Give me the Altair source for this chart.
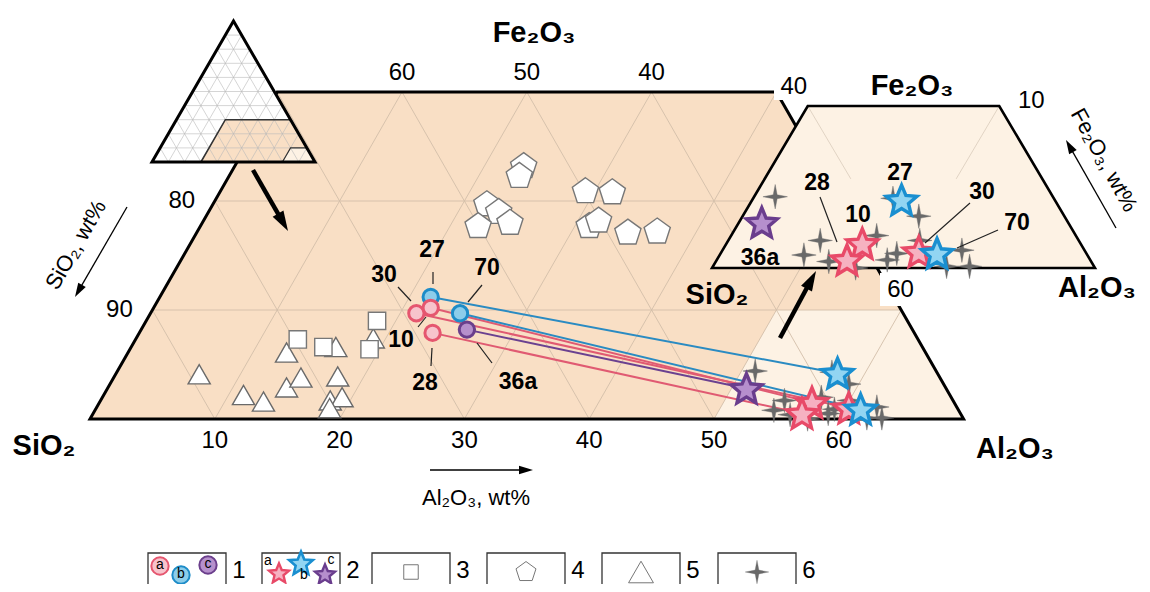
import math
import altair as alt
import pandas as pd

# ---------------- data: wt% ----------------
# legend 1 (circles) and 2 (stars): samples, sub-group a/b/c
sample_ids = ["27", "30", "10", "70", "36a", "28"]
sample_group = ["b", "a", "a", "b", "c", "a"]
clay_al2o3 = [21.7, 21.3, 22.2, 24.8, 26.1, 23.5]
clay_fe2o3 = [11.2, 9.7, 10.2, 9.7, 8.2, 7.9]
ceram_al2o3 = [57.8, 60.3, 57.1, 61.3, 51.2, 56.8]
ceram_fe2o3 = [4.2, 1.0, 1.5, 0.9, 2.8, 0.5]
# legend 3 (squares)
sq_al2o3 = [13.0, 15.4, 19.2, 18.5]
sq_fe2o3 = [7.3, 6.6, 6.4, 9.0]
# legend 4 (pentagons)
pent_al2o3 = [23.1, 23.2, 21.9, 23.2, 22.2, 24.6, 29.2, 31.4, 31.1, 31.6, 34.5, 36.8]
pent_fe2o3 = [23.3, 22.4, 19.8, 19.1, 17.8, 18.1, 21.0, 20.9, 17.8, 18.3, 17.2, 17.3]
# legend 5 (triangles)
tri_al2o3 = [6.7, 11.2, 13.1, 12.7, 14.3, 15.0, 16.4, 17.9, 18.4, 19.2, 18.7, 19.0]
tri_fe2o3 = [4.1, 2.2, 1.6, 6.1, 2.9, 3.8, 6.6, 3.9, 1.7, 2.0, 1.0, 7.4]
# legend 6 (four-point stars)
cross_al2o3 = [51.1, 54.4, 54.8, 55.9, 57.6, 58.9, 59.2, 57.3, 59.2, 60.0, 62.2, 62.5, 63.4, 57.5]
cross_fe2o3 = [4.4, 0.8, 1.7, 0.4, 2.0, 0.5, 0.9, 4.3, 3.2, 1.7, 0.1, 1.1, 0.1, 0.0]

bottom_ticks = [10, 20, 30, 40, 50, 60]   # Al2O3 along the base
top_ticks = [60, 50, 40]                  # SiO2 along Fe2O3 = 30
left_ticks = [80, 90]                     # SiO2 along the left side
legend_labels = ["1", "2", "3", "4", "5", "6"]

# ---------------- styling ----------------
FONT = "Liberation Sans, Arial, Helvetica, sans-serif"
PEACH = "#f9dfc5"
CREAM = "#fdf2e4"
GRID = "#d2bea9"
CIRC_STROKE = {"a": "#e5566f", "b": "#1d8cc8", "c": "#6b3f8c"}
CIRC_FILL = {"a": "#f7c3cc", "b": "#8ccdea", "c": "#b690cc"}
STAR_STROKE = {"a": "#e84a68", "b": "#1a8fd0", "c": "#6a3d8d"}
STAR_FILL = {"a": "#f6b1c1", "b": "#92d5f2", "c": "#b68fcd"}
LINE_COLOR = {"a": "#e05a72", "b": "#2a8bc2", "c": "#6b4190"}


# ---------------- ternary -> page geometry ----------------
def main_xy(al, fe):
    return 90 + (al + fe / 2) * 12.48, 419 - fe * 10.9


def inset_xy(al, fe):
    return 712 + (al - 50 + fe / 2) * 19.15, 268 - fe * 16.2


def icon_xy(p, f):
    return 152 + (p + f / 2) * 1.63, 162 - f * 1.41


X = alt.X("x:Q", scale=alt.Scale(domain=[8, 1142], nice=False, zero=False), axis=None)
Y = alt.Y("y:Q", scale=alt.Scale(domain=[8, 584], nice=False, zero=False, reverse=True),
          axis=None, stack=None)
X2 = alt.X2("x2:Q")
Y2 = alt.Y2("y2:Q")


def df(rows):
    return pd.DataFrame(rows)


def path_from(pts):
    return "M" + "L".join(f"{x:.3f},{y:.3f}" for x, y in pts) + "Z"


def star_path(n, inner):
    pts = []
    for k in range(2 * n):
        r = 1 if k % 2 == 0 else inner
        a = math.radians(-90 + k * 180 / n)
        pts.append((r * math.cos(a), r * math.sin(a) + 0.08))
    return path_from(pts)


STAR = star_path(5, 0.45)
PENTAGON = path_from([(math.cos(math.radians(-90 + 72 * k)), math.sin(math.radians(-90 + 72 * k)) + 0.1)
                      for k in range(5)])
SPARKLE = "M0,-1L0.16,-0.16L1,0L0.16,0.16L0,1L-0.16,0.16L-1,0L-0.16,-0.16Z"
HEAD = "M0,-1L0.62,1L-0.62,1Z"

# regions in ternary (Al2O3, Fe2O3)
main_region = [(0, 0), (0, 30), (40, 30), (70, 0)]
zoom_region = [(50, 0), (50, 10), (60, 10), (70, 0)]
icon_tri = [(0, 0), (0, 100), (100, 0)]
icon_r1 = [(30, 0), (30, 30), (70, 30), (100, 0)]
icon_r2 = [(80, 0), (80, 10), (90, 10), (100, 0)]


def area_rows(pid, corners, fn, color):
    pts = [fn(a, f) for a, f in corners]
    base = max(p[1] for p in pts)
    return [dict(pid=pid, x=x, y=y, y2=base, fill=color) for x, y in pts]


def outline_rows(pid, corners, fn, width):
    pts = [fn(a, f) for a, f in corners]
    mid = ((pts[0][0] + pts[1][0]) / 2, (pts[0][1] + pts[1][1]) / 2)
    seq = [mid] + pts[1:] + [pts[0], mid]
    return [dict(pid=pid, i=i, x=x, y=y, w=width) for i, (x, y) in enumerate(seq)]


def area_layer(rows):
    return alt.Chart(df(rows)).mark_area(orient="vertical", interpolate="linear").encode(
        x=X, y=Y, y2=Y2, fill=alt.Fill("fill:N", scale=None), detail="pid:N")


def outline_layer(rows, color="black"):
    return alt.Chart(df(rows)).mark_line(color=color, strokeJoin="miter").encode(
        x=X, y=Y, order="i:Q", detail="pid:N", strokeWidth=alt.StrokeWidth("w:Q", scale=None))


def rule_layer(rows, color, width, opacity=1.0):
    return alt.Chart(df(rows)).mark_rule(color=color, strokeWidth=width, opacity=opacity).encode(
        x=X, y=Y, x2=X2, y2=Y2)


def seg(fn, a1, f1, a2, f2):
    x1, y1 = fn(a1, f1)
    x2, y2 = fn(a2, f2)
    return dict(x=x1, y=y1, x2=x2, y2=y2)


def points_layer(rows, shape, size, sw):
    return alt.Chart(df(rows)).mark_point(shape=shape, size=size, filled=True, strokeWidth=sw,
                                          opacity=1).encode(
        x=X, y=Y, fill=alt.Fill("fill:N", scale=None), stroke=alt.Stroke("stroke:N", scale=None))


def text_layer(rows, size, weight="normal", angle=0, align="center"):
    kw = dict(font=FONT, fontSize=size, fontWeight=weight, align=align, baseline="middle", color="black")
    if angle:
        kw["angle"] = angle
    return alt.Chart(df(rows)).mark_text(**kw).encode(x=X, y=Y, text="t:N")


layers = []

# ---- main truncated triangle ----
layers.append(area_layer(area_rows("main", main_region, main_xy, PEACH) +
                         area_rows("zoom", zoom_region, main_xy, CREAM)))
grid = []
for fe in (10, 20):
    grid.append(seg(main_xy, 0, fe, 70 - fe, fe))
for al in range(10, 70, 10):
    grid.append(seg(main_xy, al, 0, al, min(30, 70 - al)))
for si in range(40, 100, 10):
    fmax = min(30, 100 - si)
    grid.append(seg(main_xy, 100 - si, 0, 100 - si - fmax, fmax))
layers.append(rule_layer(grid, GRID, 0.9))
layers.append(outline_layer(outline_rows("main", main_region, main_xy, 3)))

# ---- index triangle (upper left) ----
layers.append(area_layer(area_rows("tri", icon_tri, icon_xy, "#ffffff") +
                         area_rows("r1", icon_r1, icon_xy, PEACH) +
                         area_rows("r2", icon_r2, icon_xy, CREAM)))
igrid = []
for k in range(10, 100, 10):
    igrid.append(seg(icon_xy, 0, k, 100 - k, k))
    igrid.append(seg(icon_xy, k, 0, k, 100 - k))
    igrid.append(seg(icon_xy, 100 - k, 0, 0, 100 - k))
layers.append(rule_layer(igrid, "#b8b8b8", 0.6))
layers.append(outline_layer(outline_rows("r1", icon_r1, icon_xy, 1.6) +
                            outline_rows("r2", icon_r2, icon_xy, 1.2), color="#333333"))
layers.append(outline_layer(outline_rows("tri", icon_tri, icon_xy, 3)))

# ---- enlarged inset ----
layers.append(area_layer(area_rows("inset", zoom_region, inset_xy, CREAM)))
layers.append(rule_layer([seg(inset_xy, 50, 10, 54.5, 5.5), seg(inset_xy, 60, 10, 60, 5.5)],
                         "#d9cbbb", 0.8))
layers.append(outline_layer(outline_rows("inset", zoom_region, inset_xy, 2.6)))

# white boxes behind the inset tick labels
layers.append(alt.Chart(df([dict(x=774, x2=812, y=74, y2=100), dict(x=880, x2=922, y=273, y2=306)]))
              .mark_rect(color="white").encode(x=X, x2=X2, y=Y, y2=Y2))

# ---- clay -> ceramic tie lines ----
ties = []
for i, g in enumerate(sample_group):
    x1, y1 = main_xy(clay_al2o3[i], clay_fe2o3[i])
    x2, y2 = main_xy(ceram_al2o3[i], ceram_fe2o3[i])
    ties.append(dict(x=x1, y=y1, x2=x2, y2=y2, c=LINE_COLOR[g]))
layers.append(alt.Chart(df(ties)).mark_rule(strokeWidth=2).encode(
    x=X, y=Y, x2=X2, y2=Y2, color=alt.Color("c:N", scale=None)))


def simple_rows(als, fes, fn, fill, stroke):
    rows = []
    for a, f in zip(als, fes):
        x, y = fn(a, f)
        rows.append(dict(x=x, y=y, fill=fill, stroke=stroke))
    return rows


layers.append(points_layer(simple_rows(tri_al2o3, tri_fe2o3, main_xy, "white", "#6a6a6a"),
                           "triangle-up", 490, 1.4))
layers.append(points_layer(simple_rows(sq_al2o3, sq_fe2o3, main_xy, "white", "#777777"),
                           "square", 300, 1.4))
layers.append(points_layer(simple_rows(pent_al2o3, pent_fe2o3, main_xy, "white", "#777777"),
                           PENTAGON, 760, 1.4))
for fn in (main_xy, inset_xy):
    layers.append(points_layer(simple_rows(cross_al2o3, cross_fe2o3, fn, "#696969", "#696969"),
                               SPARKLE, 600, 0.4))

circ = []
for i, g in enumerate(sample_group):
    x, y = main_xy(clay_al2o3[i], clay_fe2o3[i])
    circ.append(dict(x=x, y=y, fill=CIRC_FILL[g], stroke=CIRC_STROKE[g]))
layers.append(points_layer(circ, "circle", 235, 3))

for fn in (main_xy, inset_xy):
    stars = []
    for i, g in enumerate(sample_group):
        x, y = fn(ceram_al2o3[i], ceram_fe2o3[i])
        stars.append(dict(x=x, y=y, fill=STAR_FILL[g], stroke=STAR_STROKE[g]))
    layers.append(points_layer(stars, STAR, 1050, 3.4))

# ---- sample labels and leaders ----
main_label_pos = {"27": (432, 250), "30": (384, 275), "70": (487, 268),
                  "10": (401, 340), "28": (425, 383), "36a": (518, 382)}
main_leaders = [((433, 272), (433, 284)), ((398, 287), (411, 301)), ((482, 285), (468, 302)),
                ((418, 327), (426, 317)), ((432, 348), (431, 366)), ((477, 343), (492, 363))]
inset_label_pos = {"27": (900, 173), "28": (817, 183), "10": (858, 215),
                   "30": (982, 192), "70": (1017, 223), "36a": (760, 258)}
inset_leaders = [((820, 197), (837, 242)), ((970, 203), (925, 243)), ((998, 230), (957, 248))]
lead_rows = [dict(x=a[0], y=a[1], x2=b[0], y2=b[1]) for a, b in main_leaders + inset_leaders]
layers.append(rule_layer(lead_rows, "#222222", 1.2))
lab_rows = [dict(x=p[0], y=p[1], t=s) for s, p in main_label_pos.items()]
lab_rows += [dict(x=p[0], y=p[1], t=s) for s, p in inset_label_pos.items()]
layers.append(text_layer(lab_rows, 23, "bold"))

# ---- tick labels ----
ticks = []
for v in bottom_ticks:
    x, _ = main_xy(v, 0)
    ticks.append(dict(x=x, y=441, t=str(v)))
for v in top_ticks:
    x, _ = main_xy(70 - v, 30)
    ticks.append(dict(x=x, y=73, t=str(v)))
for v in left_ticks:
    x, y = main_xy(0, 100 - v)
    ticks.append(dict(x=x - 33, y=y, t=str(v)))
x, y = inset_xy(50, 10)
ticks.append(dict(x=x - 14, y=y - 19, t="40"))
x, y = inset_xy(60, 10)
ticks.append(dict(x=x + 32, y=y - 5, t="10"))
x, y = inset_xy(60, 0)
ticks.append(dict(x=x - 3, y=y + 22, t="60"))
layers.append(text_layer(ticks, 24))

# ---- component names ----
names = [dict(x=534, y=33, t="Fe₂O₃"), dict(x=44, y=446, t="SiO₂"), dict(x=1015, y=449, t="Al₂O₃"),
         dict(x=912, y=86, t="Fe₂O₃"), dict(x=1097, y=288, t="Al₂O₃"), dict(x=717, y=295, t="SiO₂")]
layers.append(text_layer(names, 29, "bold"))
layers.append(text_layer([dict(x=76, y=245, t="SiO₂, wt%")], 22, angle=300))
layers.append(text_layer([dict(x=476, y=498, t="Al₂O₃, wt%")], 22))
layers.append(text_layer([dict(x=1104, y=160, t="Fe₂O₃, wt%")], 22, angle=61))


# ---- arrows ----
def arrow(x1, y1, x2, y2, lw, hl):
    dx, dy = x2 - x1, y2 - y1
    d = math.hypot(dx, dy)
    ux, uy = dx / d, dy / d
    cx, cy = x2 - ux * hl / 2, y2 - uy * hl / 2
    ang = math.degrees(math.atan2(ux, -uy)) % 360
    return dict(x=x1, y=y1, x2=cx, y2=cy, w=lw), dict(x=cx, y=cy, ang=ang, size=hl * hl)


arrow_defs = [(253, 170, 288, 231, 4.5, 20), (780, 338, 816, 271, 4.5, 20),
              (127, 207, 75, 297, 1.3, 14), (430, 470, 533, 470, 1.3, 14),
              (1116, 228, 1066, 140, 1.3, 14)]
shafts, heads = [], []
for a in arrow_defs:
    s, h = arrow(*a)
    shafts.append(s)
    heads.append(h)
layers.append(alt.Chart(df(shafts)).mark_rule(color="black").encode(
    x=X, y=Y, x2=X2, y2=Y2, strokeWidth=alt.StrokeWidth("w:Q", scale=None)))
layers.append(alt.Chart(df(heads)).mark_point(shape=HEAD, filled=True, color="black", opacity=1).encode(
    x=X, y=Y, angle=alt.Angle("ang:Q", scale=None), size=alt.Size("size:Q", scale=None)))

# ---- legend ----
box_x0 = [148, 262, 372, 487, 602, 718]
boxes = [dict(x=b, x2=b + 78, y=553, y2=610) for b in box_x0]
layers.append(alt.Chart(df(boxes)).mark_rect(fill="white", stroke="#333333", strokeWidth=1.3).encode(
    x=X, x2=X2, y=Y, y2=Y2))
layers.append(text_layer([dict(x=b + 91, y=571, t=t) for b, t in zip(box_x0, legend_labels)], 24))
lc = [dict(x=160, y=566, fill=CIRC_FILL["a"], stroke=CIRC_STROKE["a"], t="a"),
      dict(x=181, y=575, fill=CIRC_FILL["b"], stroke=CIRC_STROKE["b"], t="b"),
      dict(x=208, y=565, fill=CIRC_FILL["c"], stroke=CIRC_STROKE["c"], t="c")]
layers.append(points_layer(lc, "circle", 300, 2))
layers.append(text_layer([dict(x=r["x"], y=r["y"] - 1, t=r["t"]) for r in lc], 14))
ls = [dict(x=279, y=573, fill=STAR_FILL["a"], stroke=STAR_STROKE["a"]),
      dict(x=301, y=563, fill=STAR_FILL["b"], stroke=STAR_STROKE["b"]),
      dict(x=325, y=574, fill=STAR_FILL["c"], stroke=STAR_STROKE["c"])]
layers.append(points_layer(ls[:1] + ls[2:], STAR, 440, 2.4))
layers.append(points_layer(ls[1:2], STAR, 620, 2.6))
layers.append(text_layer([dict(x=268, y=561, t="a"), dict(x=304, y=575, t="b"),
                          dict(x=331, y=560, t="c")], 14))
layers.append(points_layer([dict(x=411, y=572, fill="white", stroke="#777777")], "square", 210, 1))
layers.append(points_layer([dict(x=526, y=571, fill="white", stroke="#777777")], PENTAGON, 440, 1))
layers.append(points_layer([dict(x=641, y=572, fill="white", stroke="#777777")], "triangle-up", 620, 1))
layers.append(points_layer([dict(x=757, y=572, fill="#696969", stroke="#696969")], SPARKLE, 560, 0.3))

chart = alt.layer(*layers).properties(
    width=1134, height=576, padding=0, background="white",
    autosize=alt.AutoSizeParams(type="none"),
).configure_view(stroke=None)

chart.save("out.html", embed_options={"renderer": "svg", "actions": False})
